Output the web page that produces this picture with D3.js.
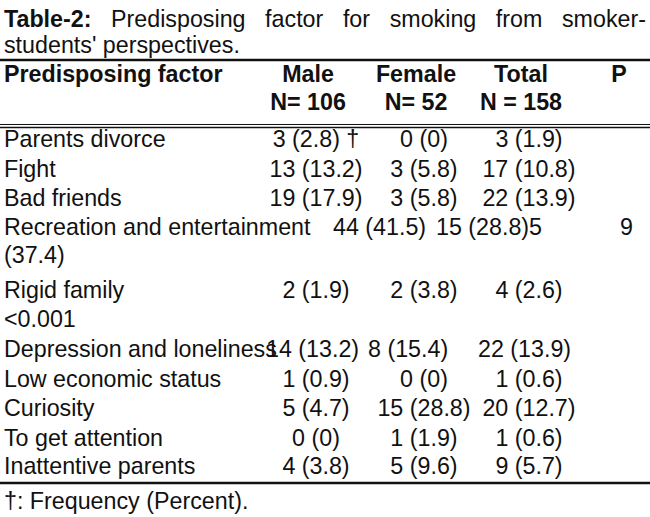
<!DOCTYPE html>
<html><head><meta charset="utf-8">
<script src="https://cdn.jsdelivr.net/npm/d3@7"></script>
<style>body{margin:0;background:#fff}text{font-family:'Liberation Sans',Arial,sans-serif;fill:#111}</style>
</head><body>
<script>
const w = 650, h = 517;
const rows = [
  {f: 'Parents divorce', m: '3 (2.8) †', fe: '0 (0)', t: '3 (1.9)'},
  {f: 'Fight', m: '13 (13.2)', fe: '3 (5.8)', t: '17 (10.8)'},
  {f: 'Bad friends', m: '19 (17.9)', fe: '3 (5.8)', t: '22 (13.9)'},
  {f: 'Recreation and entertainment', raw: [[333, '44 (41.5)'], [436, '15 (28.8)5'], [620, '9']]},
  {f: '(37.4)'},
  {f: 'Rigid family', m: '2 (1.9)', fe: '2 (3.8)', t: '4 (2.6)'},
  {f: '<0.001'},
  {f: 'Depression and loneliness', raw: [[266, '14 (13.2)'], [368, '8 (15.4)'], [478, '22 (13.9)']]},
  {f: 'Low economic status', m: '1 (0.9)', fe: '0 (0)', t: '1 (0.6)'},
  {f: 'Curiosity', m: '5 (4.7)', fe: '15 (28.8)', t: '20 (12.7)'},
  {f: 'To get attention', m: '0 (0)', fe: '1 (1.9)', t: '1 (0.6)'},
  {f: 'Inattentive parents', m: '4 (3.8)', fe: '5 (9.6)', t: '9 (5.7)'}
];
const rowY = [147, 177, 206, 235, 263, 298, 327, 357, 387, 416, 446, 474];

const svg = d3.select('body').append('svg').attr('width', w).attr('height', h);
const fs = 24;
const col = d3.scaleOrdinal().domain(['m', 'fe', 't', 'p']).range([316, 424, 529, 619]);
const sx = 0.97;
const g = svg.append('g').attr('transform', 'scale(' + sx + ',1)');
function txt(x, y, s, anchor, bold) {
  return g.append('text').attr('x', x / sx).attr('y', y).attr('font-size', fs)
    .attr('text-anchor', anchor || 'start').attr('font-weight', bold ? 'bold' : null).text(s);
}

// TITLE (justified line)
const t1 = g.append('text').attr('x', 4 / sx).attr('y', 27).attr('font-size', fs);
t1.append('tspan').attr('font-weight', 'bold').text('Table-2:');
t1.append('tspan').text(' Predisposing factor for smoking from smoker-');
const len = t1.node().getComputedTextLength();
t1.attr('word-spacing', Math.max(0, (642 / sx - len) / 6));
txt(4, 53, "students' perspectives.");

// HEADER
txt(4, 82, 'Predisposing factor', 'start', true);
[['m', 'Male'], ['fe', 'Female'], ['t', 'Total'], ['p', 'P']].forEach(function(d) {
  txt(col(d[0]) - (d[0] === 'p' ? 0 : 8), 82, d[1], 'middle', true);
});
[['m', 'N= 106'], ['fe', 'N= 52'], ['t', 'N = 158']].forEach(function(d) {
  txt(col(d[0]) - 8, 110, d[1], 'middle', true);
});

// RULES
function rule(y, sw) {
  svg.append('line').attr('x1', 0).attr('x2', w).attr('y1', y).attr('y2', y)
    .attr('stroke', '#111').attr('stroke-width', sw);
}
rule(60, 2.5); rule(124.5, 1.2); rule(127.5, 1.5); rule(483, 2.5);

// BODY
rows.forEach(function(r, i) {
  const y = rowY[i];
  txt(4, y, r.f);
  if (r.raw) {
    r.raw.forEach(function(c) { txt(c[0], y, c[1]); });
  } else if (r.m) {
    ['m', 'fe', 't'].forEach(function(k) {
      txt(col(k), y, r[k], 'middle');
    });
  }
});

txt(4, 509, '†: Frequency (Percent).');
</script>
</body></html>
